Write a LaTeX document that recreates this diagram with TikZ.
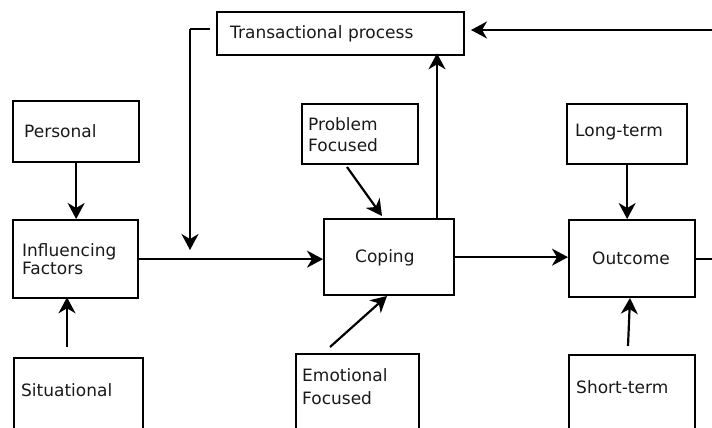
\documentclass[tikz,border=0pt]{standalone}
\usepackage{fontspec}
\setmainfont{DejaVu Sans}
\usetikzlibrary{arrows.meta}
\tikzset{
  box/.style={draw=black, line width=2.3pt, anchor=north west, inner sep=0pt},
  txt/.style={inner sep=0pt, font=\fontsize{17}{20}\selectfont, text=black!90, align=left},
  arr/.style={line width=2.2pt, -{Stealth[length=16pt, width=17pt, inset=5pt]}},
  ln/.style={line width=2.2pt}
}
\begin{document}
\begin{tikzpicture}[x=1pt, y=-1pt]
\useasboundingbox (0,0) rectangle (712,428);
\clip (0,0) rectangle (712,428);
% boxes
\node[box, minimum width=247pt, minimum height=43pt] (trans) at (216,11) {};
\node[box, minimum width=126pt, minimum height=61pt] (personal) at (12,100) {};
\node[box, minimum width=125pt, minimum height=78pt] (infl) at (12,219) {};
\node[box, minimum width=129pt, minimum height=100pt] (situ) at (13,357) {};
\node[box, minimum width=116pt, minimum height=60pt] (prob) at (301,103) {};
\node[box, minimum width=130pt, minimum height=76pt] (coping) at (323,218) {};
\node[box, minimum width=123pt, minimum height=100pt] (emo) at (295,353) {};
\node[box, minimum width=120pt, minimum height=60pt] (long) at (566,103) {};
\node[box, minimum width=126pt, minimum height=77pt] (outcome) at (568,219) {};
\node[box, minimum width=126pt, minimum height=100pt] (short) at (568,354) {};
% texts
\node[txt, anchor=base west] (transT) at (230,39) {Transactional process};
\node[txt, anchor=base west] (personalT) at (24,137) {Personal};
\node[txt, anchor=north west, font=\fontsize{17}{17.5}\selectfont] (inflT) at (22,243.5) {Influencing\\Factors};
\node[txt, anchor=base west] (situT) at (21,396) {Situational};
\node[txt, anchor=north west, font=\fontsize{17}{21}\selectfont] (probT) at (308,117.5) {Problem\\Focused};
\node[txt, anchor=base west] (copingT) at (355,262) {Coping};
\node[txt, anchor=north west, font=\fontsize{17}{23}\selectfont] (emoT) at (302,368.5) {Emotional\\Focused};
\node[txt, anchor=base west] (longT) at (575,136) {Long-term};
\node[txt, anchor=base west] (outcomeT) at (592,264) {Outcome};
\node[txt, anchor=base west] (shortT) at (576,393) {Short-term};
% coordinates
\coordinate (b0) at (210,29);
\coordinate (b1) at (190,29);
\coordinate (b2) at (190,250);
\coordinate (s1) at (67,347);
\coordinate (p1) at (347,167);
\coordinate (p2) at (382,216);
\coordinate (e1) at (330,347);
\coordinate (e2) at (387,296);
\coordinate (c1) at (437,218);
\coordinate (r1) at (712,30);
\coordinate (r2) at (471,30);
\coordinate (t1) at (628,346);
\coordinate (t2) at (630,298);
\coordinate (o1) at (outcome.east -| r1);
% connectors
\draw[arr] (personal.south) -- (personal.south |- infl.north);
\draw[arr] (s1) -- ([yshift=2pt]s1 |- infl.south);
\draw[ln] (b0) -- (b1);
\draw[arr] (b1) -- (b2);
\draw[arr] (infl.east) -- (infl.east -| coping.west);
\draw[arr] (p1) -- (p2);
\draw[arr] (e1) -- (e2);
\draw[arr] (c1) -- ([yshift=3pt]c1 |- trans.south);
\draw[arr] (r1) -- (r2);
\draw[arr] (coping.east) -- (coping.east -| outcome.west);
\draw[arr] (long.south) -- (long.south |- outcome.north);
\draw[arr] (t1) -- (t2);
\draw[ln] (outcome.east) -- (o1);
\end{tikzpicture}
\end{document}
